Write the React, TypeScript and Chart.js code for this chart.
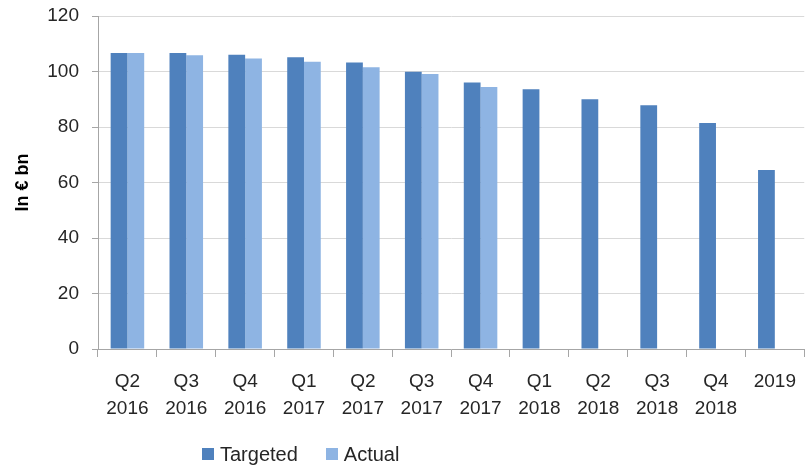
import React, { useEffect, useRef } from "react";
import { Chart, registerables } from "chart.js";

Chart.register(...registerables);

const categories: string[][] = [
  ["Q2", "2016"], ["Q3", "2016"], ["Q4", "2016"],
  ["Q1", "2017"], ["Q2", "2017"], ["Q3", "2017"], ["Q4", "2017"],
  ["Q1", "2018"], ["Q2", "2018"], ["Q3", "2018"], ["Q4", "2018"],
  ["2019"],
];
const targeted: number[] = [106.7, 106.7, 106.0, 105.1, 103.2, 99.9, 96.0, 93.6, 90.0, 87.8, 81.4, 64.5];
const actual: (number | null)[] = [106.7, 105.9, 104.7, 103.5, 101.5, 99.1, 94.4, null, null, null, null, null];
const yTicks: number[] = [0, 20, 40, 60, 80, 100, 120];

const TARGET_COLOR = "#4f81bd";
const ACTUAL_COLOR = "#8eb4e3";
const FONT = "'Liberation Sans', Arial, sans-serif";

export default function App() {
  const ref = useRef<HTMLCanvasElement | null>(null);

  useEffect(() => {
    if (!ref.current) return;
    const chart = new Chart(ref.current, {
      type: "bar",
      data: {
        labels: categories,
        datasets: [
          { label: "Targeted", data: targeted, backgroundColor: TARGET_COLOR, borderWidth: 0 },
          { label: "Actual", data: actual, backgroundColor: ACTUAL_COLOR, borderWidth: 0 },
        ],
      },
      options: {
        animation: false,
        responsive: false,
        maintainAspectRatio: false,
        layout: { padding: { top: 16, right: 1, left: 0, bottom: 0 } },
        plugins: { legend: { display: false }, tooltip: { enabled: false } },
        datasets: { bar: { categoryPercentage: 0.57, barPercentage: 1.0 } },
        scales: {
          x: {
            grid: { drawOnChartArea: false, drawTicks: true, tickLength: 8, offset: true, color: "#a6a6a6" },
            border: { color: "#a6a6a6" },
            ticks: {
              color: "#262626",
              font: { family: FONT, size: 19, lineHeight: 1.42 },
              padding: 11,
              maxRotation: 0,
              autoSkip: false,
            },
            afterFit: (scale: any) => { scale.height = 120; },
          },
          y: {
            min: 0,
            max: 120,
            afterBuildTicks: (scale: any) => { scale.ticks = yTicks.map((v) => ({ value: v })); },
            grid: { color: "#d9d9d9", tickLength: 6, tickColor: "#a6a6a6" },
            border: { color: "#a6a6a6" },
            ticks: { color: "#262626", font: { family: FONT, size: 19 }, padding: 13 },
            title: {
              display: true,
              text: "In € bn",
              color: "#000",
              font: { family: FONT, size: 18, weight: "bold" },
              padding: { top: 12, bottom: 0 },
            },
            afterFit: (scale: any) => {
              scale.width = 98;
              scale.paddingTop = 0;
              scale.paddingBottom = 0;
            },
          },
        },
      },
    });
    return () => chart.destroy();
  }, []);

  const sq: React.CSSProperties = { display: "inline-block", width: 12, height: 12, marginRight: 6 };
  return (
    <div style={{ position: "absolute", left: 0, top: 0, width: 807, height: 469, background: "#fff" }}>
      <canvas ref={ref} width={807} height={469} style={{ display: "block" }} />
      <div
        style={{
          position: "absolute",
          left: 202,
          top: 443,
          display: "flex",
          alignItems: "center",
          fontFamily: FONT,
          fontSize: 20,
          color: "#262626",
          lineHeight: "22px",
        }}
      >
        <span style={{ ...sq, background: TARGET_COLOR }} />
        <span style={{ marginRight: 28 }}>Targeted</span>
        <span style={{ ...sq, background: ACTUAL_COLOR }} />
        <span>Actual</span>
      </div>
    </div>
  );
}
